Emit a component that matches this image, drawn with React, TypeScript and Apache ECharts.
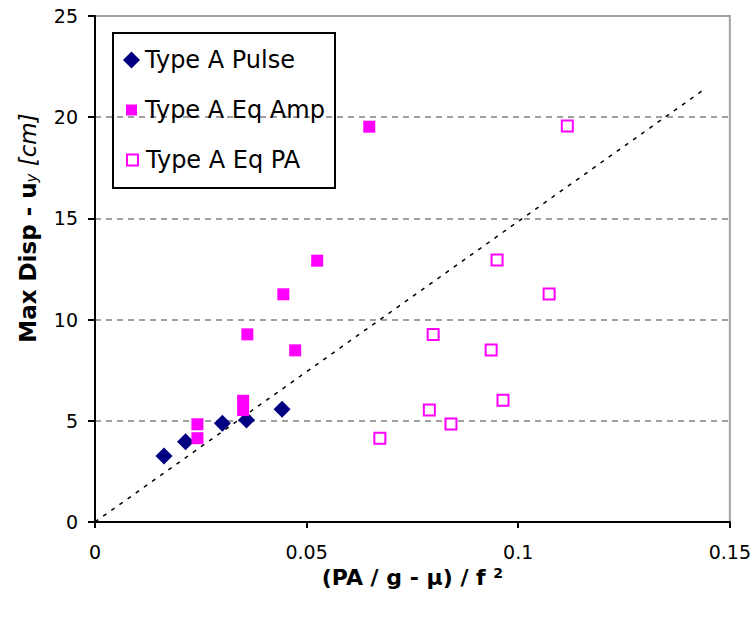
import React, { useEffect, useRef } from "react";
import * as echarts from "echarts";

const pulseX = [0.0163, 0.0214, 0.0301, 0.0358, 0.0442];
const pulseY = [3.26, 3.97, 4.88, 5.04, 5.57];

const ampX = [0.0242, 0.0242, 0.035, 0.035, 0.0648, 0.0525, 0.0445, 0.036, 0.0473];
const ampY = [4.83, 4.14, 5.99, 5.53, 19.53, 12.91, 11.25, 9.27, 8.48];

const paX = [0.1116, 0.095, 0.1073, 0.0799, 0.0936, 0.0964, 0.079, 0.0841, 0.0673];
const paY = [19.57, 12.94, 11.26, 9.27, 8.5, 6.01, 5.53, 4.84, 4.14];

const trendX = [0, 0.1435];
const trendY = [0, 21.31];

const xTicks = [0, 0.05, 0.1, 0.15];
const yTicks = [0, 5, 10, 15, 20, 25];

const seriesNames = ["Type A Pulse", "Type A Eq Amp", "Type A Eq PA"];

const FONT = "DejaVu Sans";

const zip = (xs: number[], ys: number[]) => xs.map((x, i) => [x, ys[i]]);

export default function App() {
  const ref = useRef<HTMLDivElement>(null);
  useEffect(() => {
    if (!ref.current) return;
    const chart = echarts.init(ref.current, undefined, { renderer: "svg" });
    const legendText = { fontFamily: FONT, fontSize: 24, color: "#000", lineHeight: 24 };
    const legendBase = {
      orient: "vertical" as const,
      padding: 0,
      selectedMode: false,
    };
    chart.setOption({
      animation: false,
      backgroundColor: "#fff",
      grid: {
        left: 95,
        right: 24,
        top: 16,
        bottom: 95,
        show: true,
        borderColor: "#a0a0a0",
        borderWidth: 2,
        backgroundColor: "#fff",
      },
      xAxis: {
        type: "value",
        min: xTicks[0],
        max: xTicks[xTicks.length - 1],
        interval: 0.05,
        axisLine: { show: true, onZero: false, lineStyle: { color: "#000", width: 2 } },
        axisTick: { show: true, length: 6, lineStyle: { color: "#000", width: 2 } },
        axisLabel: {
          margin: 20,
          color: "#000",
          fontFamily: FONT,
          fontSize: 19,
          formatter: (v: number) => String(v),
        },
        splitLine: { show: false },
        name: "{b|(PA / g - μ) / f }{sup|2}",
        nameLocation: "middle",
        nameGap: 44,
        nameTextStyle: {
          rich: {
            b: { fontFamily: FONT, fontWeight: "bold", fontSize: 22, color: "#000" },
            sup: { fontFamily: FONT, fontWeight: "bold", fontSize: 14, color: "#000", verticalAlign: "top" },
          },
        },
      },
      yAxis: {
        type: "value",
        min: yTicks[0],
        max: yTicks[yTicks.length - 1],
        interval: 5,
        axisLine: { show: true, onZero: false, lineStyle: { color: "#000", width: 2 } },
        axisTick: { show: true, length: 7, lineStyle: { color: "#000", width: 2 } },
        axisLabel: { margin: 17, color: "#000", fontFamily: FONT, fontSize: 19 },
        splitLine: { show: true, lineStyle: { color: "#a0a0a0", width: 2, type: [6, 5] } },
      },
      legend: [
        { ...legendBase, data: [seriesNames[0]], left: 123, top: 48, itemWidth: 17, itemHeight: 17, textStyle: legendText },
        { ...legendBase, data: [seriesNames[1]], left: 126, top: 98, itemWidth: 11, itemHeight: 11, textStyle: { ...legendText, padding: [0, 0, 0, 3] } },
        { ...legendBase, data: [seriesNames[2]], left: 126, top: 148, itemWidth: 11, itemHeight: 11, textStyle: { ...legendText, padding: [0, 0, 0, 3] } },
      ],
      graphic: [
        {
          type: "rect",
          left: 112,
          top: 32,
          z: 0,
          shape: { width: 222, height: 155 },
          style: { fill: "#fff", stroke: "#000", lineWidth: 2 },
        },
        {
          type: "text",
          x: 28,
          y: 228,
          rotation: Math.PI / 2,
          style: {
            text: "{b|Max Disp - u}{sub|y}{i| [cm]}",
            align: "center",
            verticalAlign: "middle",
            rich: {
              b: { fontFamily: FONT, fontWeight: "bold", fontSize: 23, fill: "#000" },
              sub: { fontFamily: FONT, fontStyle: "italic", fontSize: 15, fill: "#000", verticalAlign: "bottom" },
              i: { fontFamily: FONT, fontStyle: "italic", fontSize: 23, fill: "#000" },
            },
          },
        },
      ],
      series: [
        {
          name: "trend",
          type: "line",
          data: zip(trendX, trendY),
          symbol: "none",
          z: 1,
          lineStyle: { color: "#000", width: 1.5, type: [4, 6] },
          silent: true,
        },
        {
          name: seriesNames[0],
          type: "scatter",
          data: zip(pulseX, pulseY),
          symbol: "diamond",
          symbolSize: 17,
          z: 3,
          itemStyle: { color: "#000080", opacity: 1 },
        },
        {
          name: seriesNames[1],
          type: "scatter",
          data: zip(ampX, ampY),
          symbol: "rect",
          symbolSize: 12,
          z: 3,
          itemStyle: { color: "#ff00ff", opacity: 1 },
        },
        {
          name: seriesNames[2],
          type: "scatter",
          data: zip(paX, paY),
          symbol: "rect",
          symbolSize: 11,
          z: 3,
          itemStyle: { color: "#fff", borderColor: "#ff00ff", borderWidth: 2, opacity: 1 },
        },
      ],
    });
    return () => chart.dispose();
  }, []);
  return <div ref={ref} style={{ width: 754, height: 617, position: "absolute", left: 0, top: 0 }} />;
}
